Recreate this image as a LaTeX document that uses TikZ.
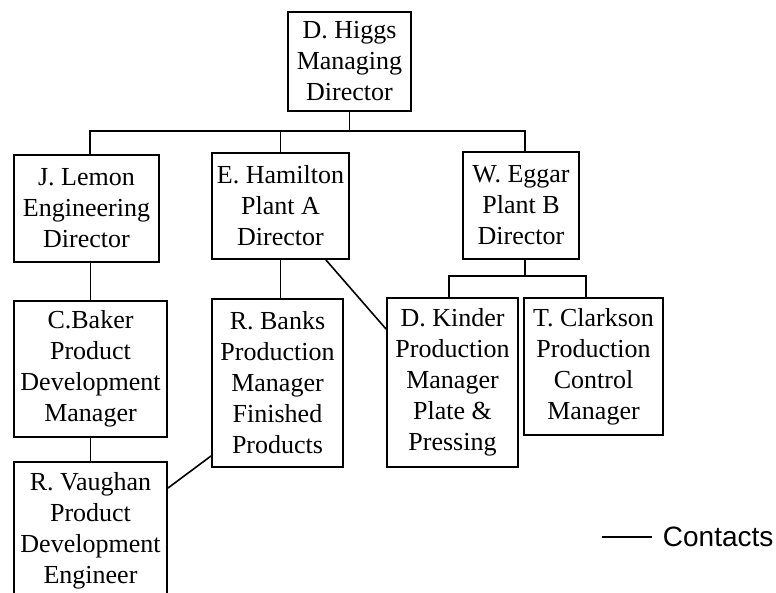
\documentclass[tikz,border=0pt]{standalone}
\usepackage{fontspec}
\setmainfont{Liberation Serif}
\newfontfamily\legendfont{Liberation Sans}
\begin{document}
\begin{tikzpicture}[x=1pt,y=-1pt,line width=1.8pt,
  post/.style={draw,align=center,inner sep=0pt,font=\fontsize{26}{31}\selectfont},
  contact/.style={line width=1.6pt}]
\useasboundingbox (0,0) rectangle (776,593);
% top and directors
\draw 	(349.5,61.5) node[post,minimum width=123,minimum height=99](higgs){D. Higgs\\Managing\\Director}
	(86.5,208.5) node[post,minimum width=145,minimum height=107](lemon){J. Lemon\\Engineering\\Director}
	(280.5,206) node[post,minimum width=137,minimum height=106](hamilton){E. Hamilton\\Plant A\\Director}
	(521,205.5) node[post,minimum width=116,minimum height=107](eggar){W. Eggar\\Plant B\\Director};
% managers
\draw 	(90.5,369) node[post,minimum width=153,minimum height=136](baker){C.Baker\\Product\\Development\\Manager}
	(90.5,531) node[post,minimum width=153,minimum height=138](vaughan){R. Vaughan\\Product\\Development\\Engineer}
	(277.5,383) node[post,minimum width=131,minimum height=168](banks){R. Banks\\Production\\Manager\\Finished\\Products}
	(452.5,382.5) node[post,minimum width=131,minimum height=169](kinder){D. Kinder\\Production\\Manager\\Plate \&\\Pressing}
	(593.5,366.5) node[post,minimum width=139,minimum height=137](clarkson){T. Clarkson\\Production\\Control\\Manager};
% reporting lines
\draw (higgs.south) -- ++(0,19) coordinate (hbar);
\draw (hbar) -| ([xshift=3.5pt]lemon.north);
\draw (hbar) -| (hamilton.north);
\draw (hbar) -| ([xshift=4pt]eggar.north);
\draw ([xshift=4pt]eggar.south) -- ++(0,16) coordinate (ebar);
\draw (ebar) -| ([xshift=-3.5pt]kinder.north);
\draw (ebar) -| ([xshift=-7.5pt]clarkson.north);
\draw (baker.north) -- (baker.north |- lemon.south);
\draw (baker.south) -- (vaughan.north);
\draw (hamilton.south) -- (hamilton.south |- banks.north);
% contacts
\path[contact]
    ([xshift=-24pt]hamilton.south east) edge node {} ([yshift=-32pt]kinder.north west)
    ([yshift=12pt]banks.south west) edge node {} ([yshift=-27pt]vaughan.north east);
\coordinate (cline) at (602,537);
\node[anchor=west,inner xsep=10pt,inner ysep=0pt,font=\legendfont\fontsize{28}{34}\selectfont] (contacts) at (652,537) {Contacts};
\draw[contact] (cline) -- (contacts.west);
\end{tikzpicture}
\end{document}
